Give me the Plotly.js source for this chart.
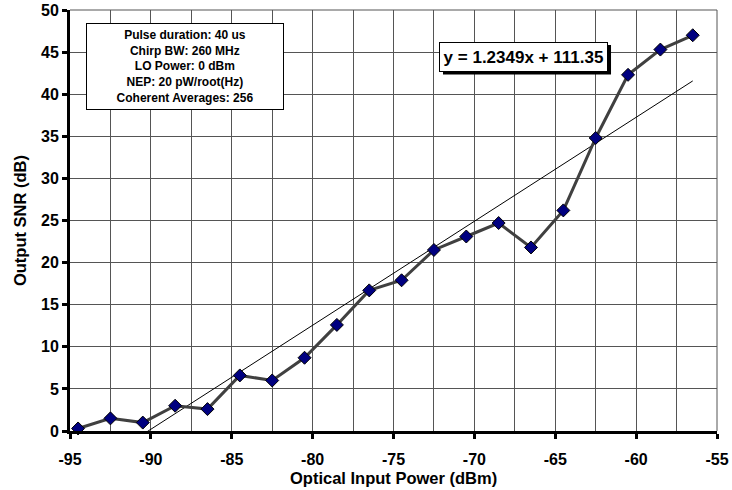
<!DOCTYPE html>
<html>
<head>
<meta charset="utf-8">
<script src="https://cdn.plot.ly/plotly-3.0.1.min.js"></script>
<style>html,body{margin:0;padding:0;background:#fff;}#chart{width:732px;height:490px;}</style>
</head>
<body>
<div id="chart"></div>
<script>
// Data
const inputPower = [-94.5, -92.5, -90.5, -88.5, -86.5, -84.5, -82.5, -80.5, -78.5, -76.5,
                    -74.5, -72.5, -70.5, -68.5, -66.5, -64.5, -62.5, -60.5, -58.5, -56.5];
const outputSNR  = [0.3, 1.5, 1.0, 3.0, 2.6, 6.6, 6.0, 8.7, 12.6, 16.7,
                    17.9, 21.5, 23.1, 24.7, 21.8, 26.2, 34.8, 42.3, 45.3, 47.0];
const trendSlope = 1.2349;
const trendIntercept = 111.35;
const xTickVals = [-95, -90, -85, -80, -75, -70, -65, -60, -55];
const xTickLabels = ["-95", "-90", "-85", "-80", "-75", "-70", "-65", "-60", "-55"];
const yTickVals = [0, 5, 10, 15, 20, 25, 30, 35, 40, 45, 50];
const yTickLabels = ["0", "5", "10", "15", "20", "25", "30", "35", "40", "45", "50"];
const infoLines = ["Pulse duration: 40 us", "Chirp BW: 260 MHz", "LO Power: 0 dBm",
                   "NEP: 20 pW/root(Hz)", "Coherent Averages: 256"];
const equationText = "y = 1.2349x + 111.35";
const xTitle = "Optical Input Power (dBm)";
const yTitle = "Output SNR (dB)";

const xTrend = [inputPower[0], inputPower[inputPower.length - 1]];
const yTrend = xTrend.map(x => trendSlope * x + trendIntercept);
const bold = s => "<b>" + s + "</b>";

const font = "Liberation Sans, Arial, sans-serif";

const traces = [
  {x: xTrend, y: yTrend, mode: "lines", line: {color: "#000", width: 1}, hoverinfo: "skip"},
  {x: inputPower, y: outputSNR, mode: "lines+markers",
   line: {color: "#404040", width: 3},
   marker: {symbol: "diamond", size: 10, color: "#000080", line: {color: "#000", width: 1}},
   cliponaxis: false}
];

const layout = {
  width: 732, height: 490,
  margin: {l: 70, r: 15, t: 10, b: 59},
  paper_bgcolor: "#fff", plot_bgcolor: "#fff",
  showlegend: false,
  font: {family: font, color: "#000"},
  xaxis: {
    range: [-95, -55],
    tickmode: "array", tickvals: xTickVals, ticktext: xTickLabels.map(bold),
    showline: true, linewidth: 3, linecolor: "#000",
    ticks: "outside", ticklen: 5, tickwidth: 3, tickcolor: "#000",
    ticklabelstandoff: 7,
    showgrid: true, gridcolor: "#555", gridwidth: 1,
    minor: {dtick: 2.5, tick0: -95, showgrid: true, gridcolor: "#555", gridwidth: 1},
    zeroline: false,
    tickfont: {size: 16, family: font, weight: 700}
  },
  yaxis: {
    range: [0, 50],
    tickmode: "array", tickvals: yTickVals, ticktext: yTickLabels.map(bold),
    showline: true, linewidth: 3, linecolor: "#000",
    ticks: "outside", ticklen: 5, tickwidth: 3, tickcolor: "#000",
    showgrid: true, gridcolor: "#555", gridwidth: 1,
    zeroline: false,
    tickfont: {size: 16, family: font, weight: 700}
  },
  shapes: [
    {type: "line", xref: "paper", yref: "paper", x0: 0, x1: 1, y0: 1, y1: 1, line: {color: "#555", width: 1}},
    {type: "line", xref: "paper", yref: "paper", x0: 1, x1: 1, y0: 0, y1: 1, line: {color: "#555", width: 1}},
    // shadow for equation label
    {type: "rect", xref: "paper", yref: "paper", x0: 0.5765, x1: 0.8362, y0: 0.8468, y1: 0.9169,
     fillcolor: "#000", line: {width: 0}, layer: "above"}
  ],
  annotations: [
    {xref: "paper", yref: "paper", x: 0.1785, y: 0.8653, xanchor: "center", yanchor: "middle",
     width: 196, height: 85, align: "center", valign: "middle",
     text: infoLines.map(bold).join("<br>"),
     font: {size: 12, family: font, color: "#000"},
     bgcolor: "#fff", bordercolor: "#000", borderwidth: 1, borderpad: 0, showarrow: false},
    {xref: "paper", yref: "paper", x: 0.5703, y: 0.9247, xanchor: "left", yanchor: "top",
     width: 167, height: 28,
     text: bold(equationText),
     font: {size: 17, family: font, color: "#000"},
     bgcolor: "#fff", bordercolor: "#000", borderwidth: 1, borderpad: 0, showarrow: false},
    {xref: "paper", yref: "paper", x: 0.5, y: -0.1116, xanchor: "center", yanchor: "middle",
     text: bold(xTitle), font: {size: 16.5, family: font, color: "#000"}, showarrow: false},
    {xref: "paper", yref: "paper", x: -0.0773, y: 0.501, xanchor: "center", yanchor: "middle",
     textangle: -90,
     text: bold(yTitle), font: {size: 16.5, family: font, color: "#000"}, showarrow: false}
  ]
};

Plotly.newPlot("chart", traces, layout, {displayModeBar: false, staticPlot: true});
</script>
</body>
</html>
